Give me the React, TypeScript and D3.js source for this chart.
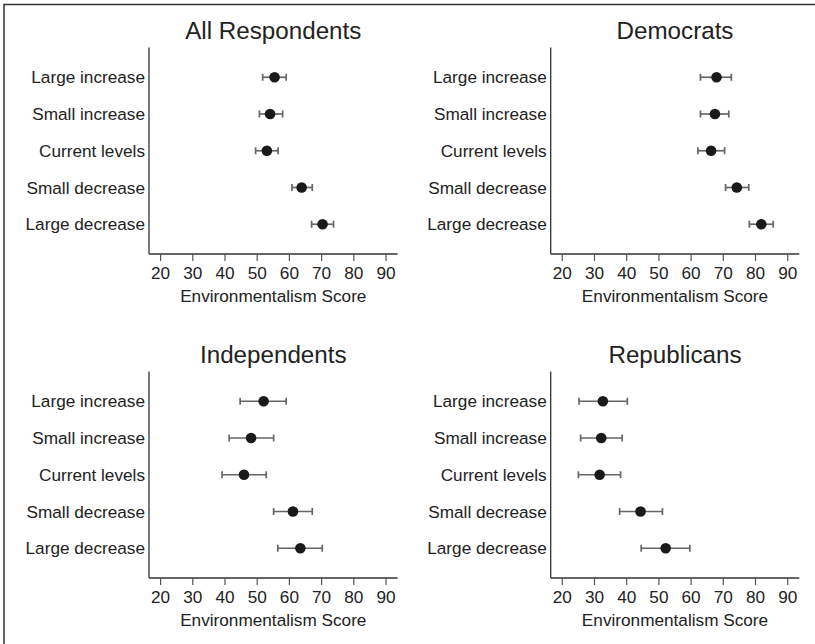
import * as d3 from "d3";

const categories = ["Large increase", "Small increase", "Current levels", "Small decrease", "Large decrease"];
const xTicks = [20, 30, 40, 50, 60, 70, 80, 90];

// score estimates, with lower / upper ends of the error bars
const allMean = [55.4, 54.0, 53.0, 63.8, 70.3];
const allLow = [51.7, 50.7, 49.5, 60.8, 66.9];
const allHigh = [59.0, 57.9, 56.5, 67.1, 73.7];

const demMean = [67.9, 67.4, 66.2, 74.2, 81.8];
const demLow = [62.9, 62.9, 62.1, 70.7, 78.1];
const demHigh = [72.5, 71.7, 70.4, 77.9, 85.5];

const indMean = [52.0, 48.1, 45.9, 61.1, 63.4];
const indLow = [44.7, 41.3, 39.1, 55.1, 56.4];
const indHigh = [59.0, 55.1, 52.8, 67.1, 70.2];

const repMean = [32.6, 32.1, 31.6, 44.3, 52.1];
const repLow = [25.2, 25.7, 25.0, 37.8, 44.5];
const repHigh = [40.2, 38.6, 38.1, 51.1, 59.6];

const panels = [
  { title: "All Respondents", mean: allMean, low: allLow, high: allHigh, left: 149, top: 47.5 },
  { title: "Democrats", mean: demMean, low: demLow, high: demHigh, left: 550.7, top: 47.5 },
  { title: "Independents", mean: indMean, low: indLow, high: indHigh, left: 149, top: 371.5 },
  { title: "Republicans", mean: repMean, low: repLow, high: repHigh, left: 550.7, top: 371.5 },
];

const plotW = 248.6;
const plotH = 206.5;
const font = "'Liberation Sans', Arial, Helvetica, sans-serif";
const ink = "#222";
const labelSize = 17.2;

const Panel = ({ p }: { p: any }) => {
  const x = d3.scaleLinear().domain([16.4, 93.6]).range([0, plotW]);
  const y = d3.scalePoint<string>().domain(categories).range([0, plotH]).padding(0.81);

  return (
    <g transform={`translate(${p.left},${p.top})`}>
      <text x={plotW / 2} y={-8.5} textAnchor="middle" fontSize={24.2} fill={ink} fontFamily={font}>
        {p.title}
      </text>
      {/* axes */}
      <line x1={0} x2={0} y1={0} y2={plotH} stroke="#333" strokeWidth={1.3} />
      <line x1={0} x2={plotW} y1={plotH} y2={plotH} stroke="#333" strokeWidth={1.3} />
      {xTicks.map((t) => (
        <g key={t} transform={`translate(${x(t)},${plotH})`}>
          <line y1={0} y2={7} stroke="#555" strokeWidth={1.2} />
          <text y={25} textAnchor="middle" fontSize={labelSize} fill={ink} fontFamily={font}>
            {t}
          </text>
        </g>
      ))}
      <text x={plotW / 2} y={plotH + 48} textAnchor="middle" fontSize={labelSize} fill={ink} fontFamily={font}>
        Environmentalism Score
      </text>
      {categories.map((c, i) => {
        const cy = y(c) as number;
        return (
          <g key={c}>
            <text x={-4} y={cy} dy="0.35em" textAnchor="end" fontSize={labelSize} fill={ink} fontFamily={font}>
              {c}
            </text>
            <line x1={x(p.low[i])} x2={x(p.high[i])} y1={cy} y2={cy} stroke="#666" strokeWidth={1.7} />
            <line x1={x(p.low[i])} x2={x(p.low[i])} y1={cy - 3.5} y2={cy + 3.5} stroke="#666" strokeWidth={1.7} />
            <line x1={x(p.high[i])} x2={x(p.high[i])} y1={cy - 3.5} y2={cy + 3.5} stroke="#666" strokeWidth={1.7} />
            <circle cx={x(p.mean[i])} cy={cy} r={5.3} fill="#1a1a1a" />
          </g>
        );
      })}
    </g>
  );
};

export default function App() {
  return (
    <svg width={815} height={644} style={{ display: "block", position: "absolute", left: 0, top: 0, background: "#fff" }}>
      <path d="M4,644 V4.5 H815" fill="none" stroke="#333" strokeWidth={1.5} />
      {panels.map((p) => (
        <Panel key={p.title} p={p} />
      ))}
    </svg>
  );
}
